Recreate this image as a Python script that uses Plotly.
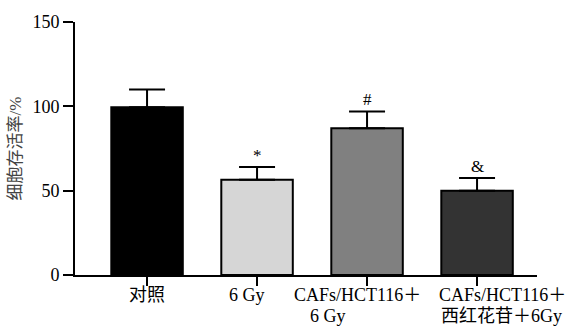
import plotly.graph_objects as go

categories = ["对照", "6 Gy", "CAFs/HCT116＋6 Gy", "CAFs/HCT116＋西红花苷＋6Gy"]
values = [99.5, 56.5, 87, 50]
errors = [10.5, 7.5, 10, 7.5]
colors = ["#000000", "#d6d6d6", "#808080", "#333333"]
marks = ["", "*", "#", "&"]
label_lines = [["对照"], ["6 Gy"], ["CAFs/HCT116＋", "6 Gy"], ["CAFs/HCT116＋", "西红花苷＋6Gy"]]
label_shifts = [[0], [-10], [-10, -39], [25, 24]]
y_ticks = [0, 50, 100, 150]

FONT = "Liberation Serif, Times New Roman, Noto Sans CJK SC, serif"
xs = list(range(len(categories)))

fig = go.Figure()
fig.add_trace(go.Bar(
    x=xs, y=values, width=0.65,
    marker=dict(color=colors, line=dict(color="black", width=2)),
    error_y=dict(type="data", array=errors, arrayminus=[0] * len(errors), symmetric=False,
                 color="black", thickness=2, width=18),
    showlegend=False,
))

annotations = []
for i, m in enumerate(marks):
    if m:
        annotations.append(dict(x=i, y=values[i] + errors[i], xref="x", yref="y",
                                text=m, showarrow=False, yanchor="bottom", yshift=0,
                                font=dict(family=FONT, size=17, color="black")))
for i, lines in enumerate(label_lines):
    for j, line in enumerate(lines):
        annotations.append(dict(x=i, y=0, xref="x", yref="paper", text=line,
                                showarrow=False, yanchor="top", xanchor="center",
                                xshift=label_shifts[i][j], yshift=-8 - 21 * j,
                                font=dict(family=FONT, size=18, color="black")))

fig.update_layout(
    width=573, height=328,
    margin=dict(l=75, r=36, t=15, b=53),
    plot_bgcolor="white", paper_bgcolor="white",
    bargap=0.35,
    annotations=annotations,
    font=dict(family=FONT, size=18, color="black"),
)
fig.update_xaxes(range=[-0.655, 3.545], tickvals=xs, ticktext=[""] * len(xs),
                 showline=True, linecolor="black", linewidth=2,
                 ticks="outside", ticklen=9, tickwidth=2, tickcolor="black",
                 showgrid=False, zeroline=False)
fig.update_yaxes(range=[0, 150], tickvals=y_ticks,
                 showline=True, linecolor="black", linewidth=2,
                 ticks="outside", ticklen=10, tickwidth=2, tickcolor="black",
                 showgrid=False, zeroline=False,
                 tickfont=dict(family=FONT, size=18, color="black"),
                 title=dict(text="细胞存活率/%", standoff=6,
                            font=dict(family=FONT, size=17, color="#444444")))

fig.write_html("out.html", config={"displayModeBar": False},
               post_script="document.body.style.margin='0';")
